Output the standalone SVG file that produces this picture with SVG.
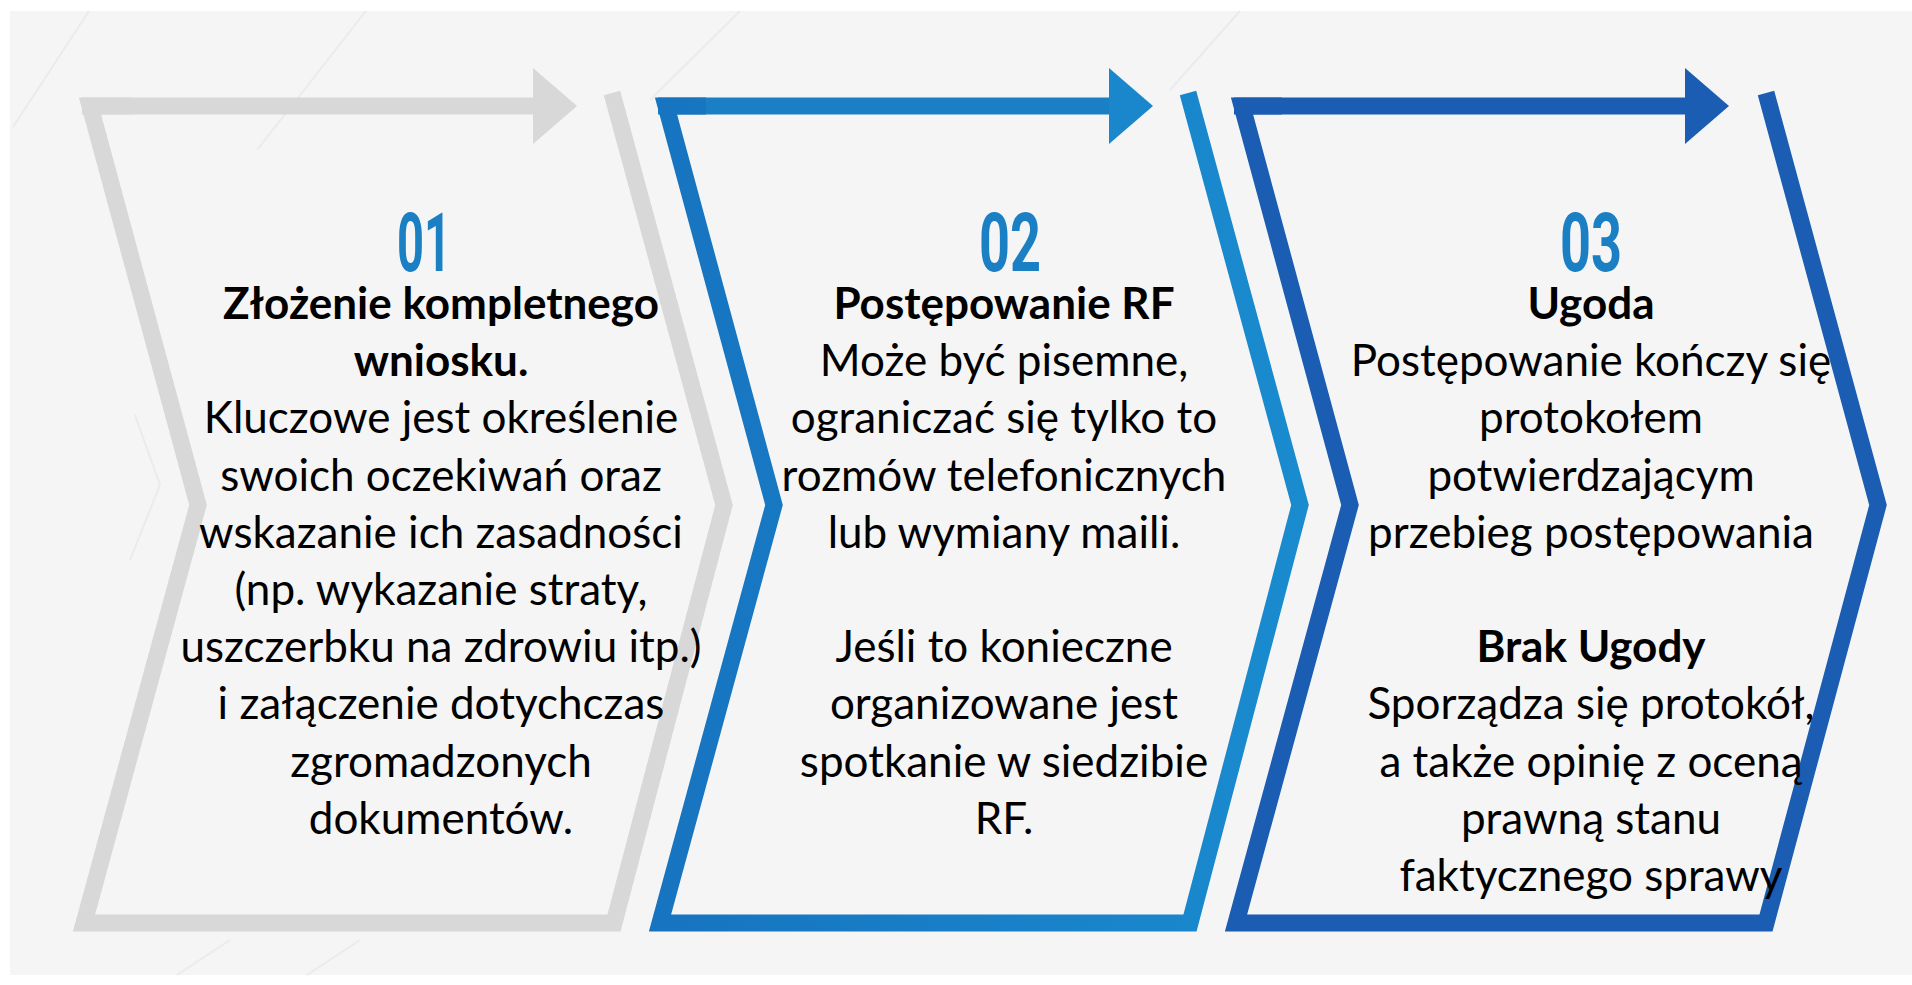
<svg xmlns="http://www.w3.org/2000/svg" width="1912" height="985" viewBox="0 0 1912 985">
  <defs>
    <linearGradient id="blueGrad" x1="0" y1="0" x2="1" y2="0">
      <stop offset="0" stop-color="#1774c0"/>
      <stop offset="1" stop-color="#1a8bcf"/>
    </linearGradient>
    <marker id="headGray" markerUnits="userSpaceOnUse" markerWidth="46" markerHeight="78" refX="0" refY="38" orient="auto" viewBox="0 0 46 78">
      <path d="M0,0 L44,38 L0,76 Z" fill="#d8d8d8"/>
    </marker>
    <marker id="headBlue" markerUnits="userSpaceOnUse" markerWidth="46" markerHeight="78" refX="0" refY="38" orient="auto" viewBox="0 0 46 78">
      <path d="M0,0 L44,38 L0,76 Z" fill="#1a86cb"/>
    </marker>
    <marker id="headDark" markerUnits="userSpaceOnUse" markerWidth="46" markerHeight="78" refX="0" refY="38" orient="auto" viewBox="0 0 46 78">
      <path d="M0,0 L44,38 L0,76 Z" fill="#1a5db3"/>
    </marker>
  </defs>
  <style>
    .frame { fill: none; stroke-width: 17; stroke-linejoin: miter; stroke-miterlimit: 10; }
    .gray { stroke: #d8d8d8; }
    .blue { stroke: #1a7fc5; }
    .dark { stroke: #1a5db3; }
    .deco { fill: none; stroke: #ebebeb; stroke-width: 2; }
    .num { font-family: Roboto, "Liberation Sans", sans-serif; font-weight: 700; font-size: 82px; fill: #1b7fc3; text-anchor: middle; }
    .txt { font-family: Lato, "Open Sans", "Liberation Sans", sans-serif; font-size: 44px; fill: #000; text-anchor: middle; }
    .b { font-weight: 700; }
  </style>

  <rect x="0" y="0" width="1912" height="985" fill="#ffffff"/>
  <rect x="10" y="11" width="1902" height="964" fill="#f5f5f5"/>

  <g id="background">
    <line class="deco" x1="89" y1="11" x2="13" y2="127"/>
    <line class="deco" x1="366" y1="11" x2="257" y2="150"/>
    <line class="deco" x1="740" y1="11" x2="650" y2="100"/>
    <line class="deco" x1="1240" y1="11" x2="1170" y2="90"/>
    <line class="deco" x1="230" y1="940" x2="177" y2="975"/>
    <line class="deco" x1="360" y1="940" x2="307" y2="975"/>
    <polyline class="deco" points="135,415 160,485 130,560" stroke-width="6"/>
  </g>

  <g id="connectors">
    <line class="frame gray" x1="82" y1="106" x2="533" y2="106" marker-end="url(#headGray)"/>
    <line class="frame blue" x1="658" y1="106" x2="1109" y2="106" marker-end="url(#headBlue)"/>
    <line class="frame dark" x1="1234" y1="106" x2="1685" y2="106" marker-end="url(#headDark)"/>
  </g>

  <g id="step1">
    <path class="frame gray" d="M130,106 L90,106 L198,505 L84,923 L614,923 L724,505 L612,93"/>
    <text class="num" x="424" y="271" textLength="54" lengthAdjust="spacingAndGlyphs">01</text>
    <text class="txt b" x="441" y="319">Złożenie kompletnego</text>
    <text class="txt b" x="441" y="376">wniosku.</text>
    <text class="txt" x="441" y="433">Kluczowe jest określenie</text>
    <text class="txt" x="441" y="491">swoich oczekiwań oraz</text>
    <text class="txt" x="441" y="548">wskazanie ich zasadności</text>
    <text class="txt" x="441" y="605">(np. wykazanie straty,</text>
    <text class="txt" x="441" y="662">uszczerbku na zdrowiu itp.)</text>
    <text class="txt" x="441" y="719">i załączenie dotychczas</text>
    <text class="txt" x="441" y="777">zgromadzonych</text>
    <text class="txt" x="441" y="834">dokumentów.</text>
  </g>

  <g id="step2">
    <path class="frame" stroke="url(#blueGrad)" d="M706,106 L666,106 L774,505 L660,923 L1190,923 L1300,505 L1188,93"/>
    <text class="num" x="1010" y="271" textLength="62" lengthAdjust="spacingAndGlyphs">02</text>
    <text class="txt b" x="1004" y="319">Postępowanie RF</text>
    <text class="txt" x="1004" y="376">Może być pisemne,</text>
    <text class="txt" x="1004" y="433">ograniczać się tylko to</text>
    <text class="txt" x="1004" y="491">rozmów telefonicznych</text>
    <text class="txt" x="1004" y="548">lub wymiany maili.</text>
    <text class="txt" x="1004" y="662">Jeśli to konieczne</text>
    <text class="txt" x="1004" y="719">organizowane jest</text>
    <text class="txt" x="1004" y="777">spotkanie w siedzibie</text>
    <text class="txt" x="1004" y="834">RF.</text>
  </g>

  <g id="step3">
    <path class="frame dark" d="M1282,106 L1242,106 L1350,505 L1236,923 L1766,923 L1878,505 L1766,93"/>
    <text class="num" x="1591" y="271" textLength="62" lengthAdjust="spacingAndGlyphs">03</text>
    <text class="txt b" x="1591" y="319">Ugoda</text>
    <text class="txt" x="1591" y="376">Postępowanie kończy się</text>
    <text class="txt" x="1591" y="433">protokołem</text>
    <text class="txt" x="1591" y="491">potwierdzającym</text>
    <text class="txt" x="1591" y="548">przebieg postępowania</text>
    <text class="txt b" x="1591" y="662">Brak Ugody</text>
    <text class="txt" x="1591" y="719">Sporządza się protokół,</text>
    <text class="txt" x="1591" y="777">a także opinię z oceną</text>
    <text class="txt" x="1591" y="834">prawną stanu</text>
    <text class="txt" x="1591" y="891">faktycznego sprawy</text>
  </g>
</svg>
